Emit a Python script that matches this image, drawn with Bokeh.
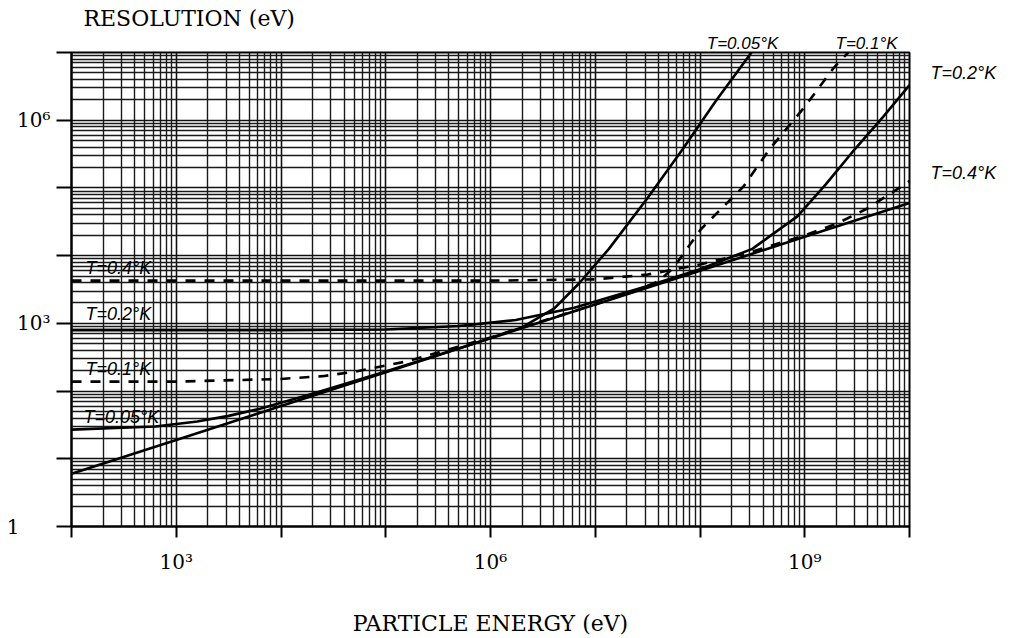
from bokeh.plotting import figure
from bokeh.models import FixedTicker, Label, Range1d, LogAxis
from bokeh.embed import file_html
from bokeh.resources import INLINE

# ---- data (eV) ----
# intrinsic line (no thermal noise), solid, full length
E_intr = [1e2, 1e3, 1e4, 1e5, 1e6, 1e7, 1e8, 1e9, 1e10]
R_intr = [6.0, 19, 60, 190, 600, 1900, 6000, 19000, 60000]

# T = 0.05 K (solid)
E_005 = [1e2, 631, 1585, 3162, 6310, 2.0e4, 1e5, 6.3e5, 2.0e6, 4.07e6, 7.1e6, 1.35e7, 3.16e7, 6.8e7, 1.41e8, 3.1e8]
R_005 = [27, 30, 35.5, 43, 55, 91, 195, 479, 871, 1660, 3980, 12600, 70800, 3.7e5, 1.9e6, 1e7]

# T = 0.1 K (dashed)
E_01 = [1e2, 1e3, 1e4, 2.5e4, 5.2e4, 1.6e5, 1e6, 1e7, 2.5e7, 4e7, 5.6e7, 7.8e7, 1.02e8, 2.6e8, 4.6e8, 1e9, 1.9e9, 2.6e9]
R_01 = [138, 138, 151, 166, 195, 275, 617, 1905, 3090, 4170, 6610, 13800, 24500, 1.05e5, 3.72e5, 1.58e6, 6.0e6, 1e7]

# T = 0.2 K (solid)
E_02 = [1e2, 1e4, 1e5, 5e5, 1.74e6, 6.3e6, 3.16e7, 1e8, 3.16e8, 8.5e8, 1.58e9, 3.0e9, 5.6e9, 1e10]
R_02 = [794, 794, 813, 912, 1120, 1700, 3550, 6310, 12600, 38000, 1.12e5, 3.72e5, 1.12e6, 3.3e6]

# T = 0.4 K (dashed)
E_04 = [1e2, 1e4, 1e6, 1e7, 3.16e7, 5e7, 1e8, 3.16e8, 1e9, 2e9, 4e9, 1e10]
R_04 = [4270, 4270, 4270, 4470, 5250, 6030, 7410, 11500, 20000, 29500, 50100, 1.26e5]

x_labels = {1000: "10\u00b3", 1000000: "10\u2076", 1000000000: "10\u2079"}
y_labels = {1000: "10\u00b3", 1000000: "10\u2076"}
y_label_one = {1: "1"}

top_curve_labels = {255000000: "T=0.05\u00b0K", 3890000000: "T=0.1\u00b0K"}
right_curve_labels = {5000000: "T=0.2\u00b0K", 165000: "T=0.4\u00b0K"}
inner_curve_labels = [
    (136, 6650, "T=0.4\u00b0K"),
    (136, 1360, "T=0.2\u00b0K"),
    (136, 215, "T=0.1\u00b0K"),
    (130, 41.9, "T=0.05\u00b0K"),
]

SERIF = "DejaVu Serif"
SANS = "Liberation Sans"

p = figure(width=1014, height=638, x_axis_type="log", y_axis_type="log",
           x_range=Range1d(1e2, 1e10), y_range=Range1d(1, 1e7),
           output_backend="svg", toolbar_location=None,
           min_border_left=71, min_border_right=105, min_border_top=52, min_border_bottom=109)

p.background_fill_color = "white"
p.border_fill_color = "white"
p.outline_line_color = "black"
p.outline_line_width = 2

xt = [10 ** k for k in range(2, 11)]
yt = [10 ** k for k in range(0, 8)]
xm = [m * 10 ** k for k in range(2, 10) for m in range(2, 10)]
ym = [m * 10 ** k for k in range(0, 7) for m in range(2, 10)]
p.xaxis.ticker = FixedTicker(ticks=xt, minor_ticks=xm)
p.yaxis.ticker = FixedTicker(ticks=yt, minor_ticks=ym)

for g in (p.xgrid, p.ygrid):
    g.grid_line_color = "#111111"
    g.grid_line_width = 1.6
    g.minor_grid_line_color = "#1a1a1a"
    g.minor_grid_line_width = 1.4

p.xaxis.major_label_overrides = {t: x_labels.get(t, "") for t in xt}
p.yaxis.major_label_overrides = {t: y_labels.get(t, "") for t in yt}
for ax in (p.xaxis[0], p.yaxis[0]):
    ax.axis_line_color = "black"
    ax.axis_line_width = 2
    ax.major_tick_line_color = "black"
    ax.major_tick_line_width = 2
    ax.major_tick_in = 0
    ax.minor_tick_line_color = None
    ax.major_label_text_font = SERIF
    ax.major_label_text_font_size = "20px"
    ax.major_label_text_color = "black"
p.xaxis.major_tick_out = 11
p.yaxis.major_tick_out = 15
p.xaxis.major_label_standoff = 12
p.yaxis.major_label_standoff = 6
p.xaxis.axis_label = "PARTICLE ENERGY (eV)"
p.xaxis.axis_label_text_font = SERIF
p.xaxis.axis_label_text_font_style = "normal"
p.xaxis.axis_label_text_font_size = "22px"
p.xaxis.axis_label_text_color = "black"
p.xaxis.axis_label_standoff = 34

# outer left axis carrying only the "1" label (left aligned look)
one_ax = LogAxis(ticker=FixedTicker(ticks=[1]), major_label_overrides=y_label_one,
                 axis_line_color=None, major_tick_line_color=None, minor_tick_line_color=None,
                 major_tick_out=0, major_tick_in=0, major_label_standoff=-5,
                 major_label_text_font=SERIF, major_label_text_font_size="20px",
                 major_label_text_color="black")
p.add_layout(one_ax, "left")

# curve labels outside the frame, carried by tick-less axes
top_ax = LogAxis(ticker=FixedTicker(ticks=list(top_curve_labels.keys())),
                 major_label_overrides=top_curve_labels,
                 axis_line_color=None, major_tick_line_color=None, minor_tick_line_color=None,
                 major_tick_out=0, major_tick_in=0, major_label_standoff=0,
                 major_label_text_font=SANS, major_label_text_font_style="italic",
                 major_label_text_font_size="17px", major_label_text_color="black")
p.add_layout(top_ax, "above")

right_ax = LogAxis(ticker=FixedTicker(ticks=list(right_curve_labels.keys())),
                   major_label_overrides=right_curve_labels,
                   axis_line_color=None, major_tick_line_color=None, minor_tick_line_color=None,
                   major_tick_out=0, major_tick_in=0, major_label_standoff=21,
                   major_label_text_font=SANS, major_label_text_font_style="italic",
                   major_label_text_font_size="18px", major_label_text_color="black")
p.add_layout(right_ax, "right")

p.title.text = "RESOLUTION (eV)"
p.title.text_font = SERIF
p.title.text_font_style = "normal"
p.title.text_font_size = "22px"
p.title.text_color = "black"
p.title.align = "left"
p.title.offset = 12
p.title.standoff = 0

LW = 2.6
p.line(E_intr, R_intr, line_color="black", line_width=LW)
p.line(E_005, R_005, line_color="black", line_width=LW)
p.line(E_01, R_01, line_color="black", line_width=LW, line_dash="10 9")
p.line(E_02, R_02, line_color="black", line_width=LW)
p.line(E_04, R_04, line_color="black", line_width=LW, line_dash="10 9")

for x, y, txt in inner_curve_labels:
    p.add_layout(Label(x=x, y=y, text=txt, text_font=SANS, text_font_style="italic",
                       text_font_size="18px", text_align="left", text_baseline="middle",
                       text_color="black"))

open("out.html", "w").write(file_html(p, INLINE))
